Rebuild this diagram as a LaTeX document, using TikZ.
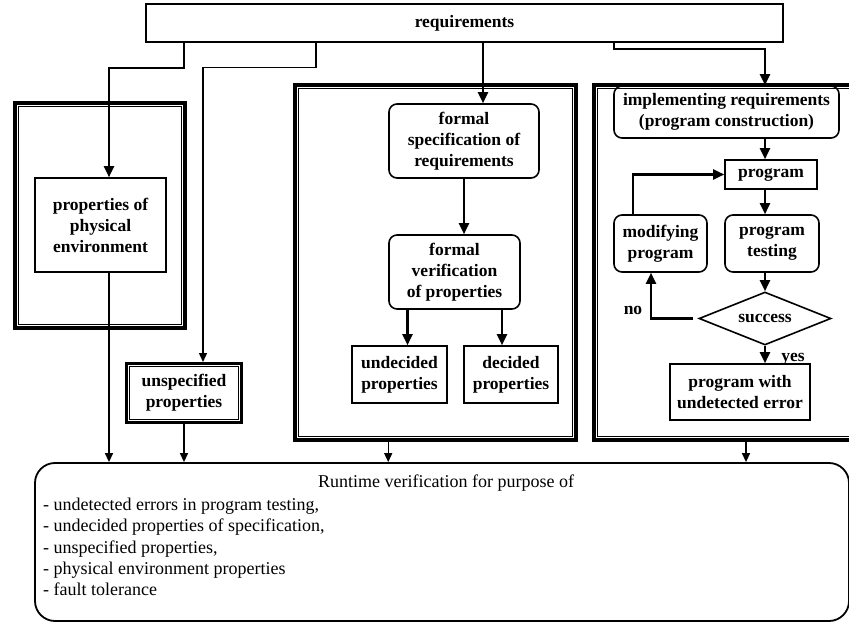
\documentclass[tikz,border=0pt]{standalone}
\usepackage{fontspec}
\setmainfont{Liberation Serif}
\usetikzlibrary{positioning}
\usetikzlibrary{calc, shapes}
\usetikzlibrary{arrows.meta}

\begin{document}
\begin{tikzpicture}[x=1pt, y=-1pt,
    font=\bfseries\fontsize{17.5}{21}\selectfont,
    box/.style={draw, line width=1.6pt, inner sep=2pt, align=center},
    rbox/.style={box, rounded corners=8pt},
    frame/.style={draw, line width=3.5pt, inner sep=0pt},
    inner frame/.style={draw, line width=1.3pt},
    arr/.style={line width=2.2pt, -{Triangle[length=11pt, width=10pt]}},
    thin arr/.style={line width=1.4pt, -{Triangle[length=9pt, width=8pt]}}
]
\clip (0,0) rectangle (849,623);
\fill[white] (0,0) rectangle (849,623);

% top
\node[box, minimum width=637, minimum height=38] (req) at (464.5,23) {requirements};

% left part
\node[frame, minimum width=170, minimum height=225] (leftbox) at (100,215.5) {};
\draw[inner frame] ($(leftbox.north west)+(5.5,5.5)$) rectangle ($(leftbox.south east)+(-5.5,-5.5)$);
\node[box, minimum width=131, minimum height=94] (physenv) at (100.5,225) {properties of\\physical\\environment};
\node[frame, line width=3pt, minimum width=115, minimum height=59, align=center] (unspec) at (184,393) {unspecified\\properties};
\draw[inner frame] ($(unspec.north west)+(4.4,4.4)$) rectangle ($(unspec.south east)+(-4.4,-4.4)$);

% formal part
\node[frame, minimum width=281, minimum height=355] (midbox) at (435.5,262.5) {};
\draw[inner frame] ($(midbox.north west)+(5.5,5.5)$) rectangle ($(midbox.south east)+(-5.5,-5.5)$);
\node[rbox, minimum width=150, minimum height=74] (fspec) at (464,141) {formal\\specification of\\requirements};
\node[rbox, minimum width=131, minimum height=74] (fverif) at (454.5,272) {formal\\verification\\of properties};
\node[box, minimum width=95, minimum height=57] (undec) at (399.5,374.5) {undecided\\properties};
\node[box, minimum width=94, minimum height=57] (dec) at (511,374.5) {decided\\properties};

% program part
\node[frame, minimum width=274, minimum height=355] (rightbox) at (731,262.5) {};
\draw[inner frame] ($(rightbox.north west)+(5.5,5.5)$) rectangle ($(rightbox.south east)+(-5.5,-5.5)$);
\node[rbox, minimum width=225, minimum height=52] (impl) at (726.5,112) {implementing requirements\\(program construction)};
\node[box, minimum width=92, minimum height=29] (prog) at (771,174.5) {program};
\node[rbox, minimum width=94, minimum height=57] (ptest) at (772,243.5) {program\\testing};
\node[rbox, minimum width=93, minimum height=57] (modif) at (660.5,243.5) {modifying\\program};
\node[draw, diamond, aspect=2.5, line width=1.6pt, inner sep=0pt, minimum width=132, minimum height=53] (succ) at (765,318.5) {success};
\node[box, minimum width=140, minimum height=56] (out) at (740,392) {program with\\undetected error};
\node (nolbl) at (633,310) {no};
\node (yeslbl) at (793,359) {yes};

% runtime verification
\node[draw, line width=1.8pt, rounded corners=20pt, minimum width=814, minimum height=158] (rt) at (442,542) {};
\node[font=\mdseries\fontsize{18}{21.3}\selectfont] (rttitle) at (446,483) {Runtime verification for purpose of};
\node[anchor=north west, align=left, inner sep=0pt, font=\mdseries\fontsize{18}{21.3}\selectfont] (rtlist) at (43,498)
  {- undetected errors in program testing,\\- undecided properties of specification,\\- unspecified properties,\\- physical environment properties\\- fault tolerance};

% from requirements
\draw[arr] ([xshift=-280.5]req.south) -- ++(0,25) -| ([xshift=8.5]physenv.north);
\draw[thin arr] ([xshift=-148.5]req.south) -- ++(0,25) -| ([xshift=19]unspec.north);
\draw[arr] ([xshift=19]fspec.north |- req.south) -- ([xshift=19]fspec.north);
\draw[arr] ([xshift=149.5]req.south) -- ++(0,6) -| ([xshift=38.5]impl.north);

\draw[arr] (fspec.south) -- (fspec.south |- fverif.north);
\draw[arr] ([xshift=8]undec.north |- fverif.south) -- ([xshift=8]undec.north);
\draw[arr] ([xshift=-9]dec.north |- fverif.south) -- ([xshift=-9]dec.north);

\draw[arr] ([xshift=38.5]impl.south) -- ([xshift=-6]prog.north);
\draw[arr] ([xshift=-6]prog.south) -- ([xshift=-7]ptest.north);
\draw[arr] ([xshift=-7]ptest.south) -- (succ.north);
\draw[arr] (succ.south) -- (succ.south |- out.north);
\draw[arr] ([xshift=-27.5]modif.north) |- (prog.west);
\draw[arr] ([xshift=-5]succ.west) -| ([xshift=-9.5]modif.south);

% into runtime verification
\draw[thin arr] ([xshift=8.5]physenv.south) -- ([xshift=8.5]physenv.south |- rt.north);
\draw[thin arr] (unspec.south) -- (unspec.south |- rt.north);
\draw[thin arr] (midbox.south -| fspec.west) -- (fspec.west |- rt.north);
\draw[thin arr] ([xshift=6]out.south |- rightbox.south) -- ([xshift=6]out.south |- rt.north);
\end{tikzpicture}
\end{document}
